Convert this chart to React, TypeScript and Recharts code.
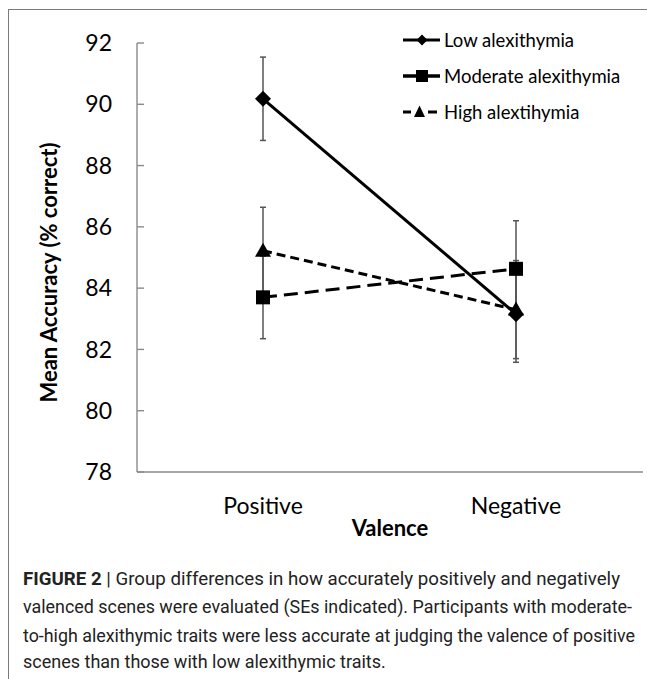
import React from 'react';
import { LineChart, Line, XAxis, YAxis, ErrorBar, Label } from 'recharts';

const categories = ['Positive', 'Negative'];
const lowMeans = [90.18, 83.15];
const lowSE = [1.36, 1.57];
const moderateMeans = [83.7, 84.63];
const moderateSE = [1.35, 1.57];
const highMeans = [85.22, 83.3];
const highSE = [1.42, 1.6];
const yTicks = [78, 80, 82, 84, 86, 88, 90, 92];

const data = categories.map((c, i) => ({
  valence: c,
  low: lowMeans[i],
  lowErr: lowSE[i],
  moderate: moderateMeans[i],
  moderateErr: moderateSE[i],
  high: highMeans[i],
  highErr: highSE[i],
}));

const AXIS = '#8a8a8a';
const ERR = '#555';
const FONT = 'Lato, "Open Sans", sans-serif';

const Diamond = (p: any) => {
  const { cx, cy, index } = p;
  if (cx == null || cy == null) return null;
  const r = 8;
  return <path key={`dm-${index}`} d={`M${cx},${cy - r}L${cx + r},${cy}L${cx},${cy + r}L${cx - r},${cy}Z`} fill="#000" />;
};

const Square = (p: any) => {
  const { cx, cy, index } = p;
  if (cx == null || cy == null) return null;
  const h = 7;
  return <rect key={`sq-${index}`} x={cx - h} y={cy - h} width={h * 2} height={h * 2} fill="#000" />;
};

const Triangle = (p: any) => {
  const { cx, cy, index } = p;
  if (cx == null || cy == null) return null;
  return <path key={`tr-${index}`} d={`M${cx},${cy - 8}L${cx + 8},${cy + 6}L${cx - 8},${cy + 6}Z`} fill="#000" />;
};

const legendRows = [
  { name: 'Low alexithymia', kind: 'diamond' },
  { name: 'Moderate alexithymia', kind: 'square' },
  { name: 'High alextihymia', kind: 'triangle' },
];

function LegendIcon({ kind }: { kind: string }) {
  if (kind === 'diamond') {
    return (
      <svg width={38} height={20}>
        <line x1={0} y1={10} x2={37} y2={10} stroke="#000" strokeWidth={3} />
        <path d="M19,4.5L24.5,10L19,15.5L13.5,10Z" fill="#000" />
      </svg>
    );
  }
  if (kind === 'square') {
    return (
      <svg width={38} height={20}>
        <line x1={0} y1={10} x2={37} y2={10} stroke="#000" strokeWidth={3.5} />
        <rect x={13} y={4} width={12} height={12} fill="#000" />
      </svg>
    );
  }
  return (
    <svg width={38} height={20}>
      <line x1={0} y1={10} x2={8} y2={10} stroke="#000" strokeWidth={3} />
      <path d="M16.5,3.5L22,15L11,15Z" fill="#000" />
      <line x1={25} y1={10} x2={34} y2={10} stroke="#000" strokeWidth={3} />
    </svg>
  );
}

function ChartLegend() {
  return (
    <div style={{ fontFamily: FONT, fontSize: 18.5, color: '#000' }}>
      {legendRows.map((r) => (
        <div key={r.name} style={{ display: 'flex', alignItems: 'center', height: 36, whiteSpace: 'nowrap' }}>
          <LegendIcon kind={r.kind} />
          <span style={{ marginLeft: 3 }}>{r.name}</span>
        </div>
      ))}
    </div>
  );
}

const YTitle = (props: any) => {
  const vb = props.viewBox || { x: 0, y: 0, width: 0, height: 0 };
  const cx = vb.x + 40;
  const cy = vb.y + vb.height / 2 + 15;
  return (
    <text
      x={cx}
      y={cy}
      transform={`rotate(-90, ${cx}, ${cy})`}
      textAnchor="middle"
      dominantBaseline="central"
      fontFamily={FONT}
      fontWeight={700}
      fontSize={22}
      fill="#000"
    >
      Mean Accuracy (% correct)
    </text>
  );
};

// caption lines and their printed widths
const captionLines = [
  { text: 'Group differences in how accurately positively and negatively', bold: 'FIGURE 2', width: 597 },
  { text: 'valenced scenes were evaluated (SEs indicated). Participants with moderate-', bold: '', width: 609 },
  { text: 'to-high alexithymic traits were less accurate at judging the valence of positive', bold: '', width: 612 },
  { text: 'scenes than those with low alexithymic traits.', bold: '', width: 0 },
];

function Caption() {
  const baselines = [21, 49, 77.7, 104];
  return (
    <svg width={640} height={115} style={{ display: 'block' }}>
      {captionLines.map((l, i) => (
        <text
          key={i}
          x={0}
          y={baselines[i]}
          fontFamily="Roboto, sans-serif"
          fontSize={18}
          fill="#222"
          {...(l.width ? { textLength: l.width, lengthAdjust: 'spacingAndGlyphs' } : {})}
        >
          {l.bold ? <tspan fontWeight={700}>{l.bold}</tspan> : null}
          {l.bold ? <tspan> | </tspan> : null}
          {l.text}
        </text>
      ))}
    </svg>
  );
}

export default function App() {
  return (
    <div style={{ position: 'relative', width: 647, height: 671 }}>
      <div
        style={{
          position: 'absolute',
          left: 0,
          top: 1,
          right: 0,
          bottom: 0,
          borderLeft: '1.4px solid #7a7a7a',
          borderTop: '1.4px solid #7a7a7a',
        }}
      />
      <div style={{ position: 'absolute', left: 0, top: 0 }}>
        <LineChart width={647} height={545} data={data} margin={{ top: 35, right: 12, left: 0, bottom: 1 }}>
          <XAxis
            dataKey="valence"
            height={80}
            padding={{ left: 126, right: 127 }}
            axisLine={{ stroke: AXIS, strokeWidth: 1.4 }}
            tickLine={false}
            tickSize={0}
            tickMargin={26}
            tick={{ fontFamily: FONT, fontSize: 23, fill: '#000' }}
          >
            <Label
              value="Valence"
              position="insideBottom"
              offset={16}
              style={{ fontFamily: FONT, fontSize: 22, fontWeight: 700, fill: '#000' }}
            />
          </XAxis>
          <YAxis
            width={129}
            domain={[78, 92]}
            ticks={yTicks}
            interval={0}
            axisLine={{ stroke: AXIS, strokeWidth: 1.4 }}
            tickLine={{ stroke: AXIS, strokeWidth: 1.4 }}
            tickSize={-7}
            tickMargin={32}
            tick={{ fontFamily: FONT, fontSize: 23, fill: '#000' }}
            label={{ content: YTitle }}
          />
          {/* error bars first so every marker sits on top */}
          <Line dataKey="low" stroke="none" dot={false} legendType="none" isAnimationActive={false}>
            <ErrorBar dataKey="lowErr" width={3} stroke={ERR} strokeWidth={1.5} direction="y" />
          </Line>
          <Line dataKey="moderate" stroke="none" dot={false} legendType="none" isAnimationActive={false}>
            <ErrorBar dataKey="moderateErr" width={3} stroke={ERR} strokeWidth={1.5} direction="y" />
          </Line>
          <Line dataKey="high" stroke="none" dot={false} legendType="none" isAnimationActive={false}>
            <ErrorBar dataKey="highErr" width={3} stroke={ERR} strokeWidth={1.5} direction="y" />
          </Line>
          <Line dataKey="low" stroke="#000" strokeWidth={3} dot={Diamond} activeDot={false} isAnimationActive={false} />
          <Line
            dataKey="moderate"
            stroke="#000"
            strokeWidth={3}
            strokeDasharray="14 7"
            dot={Square}
            activeDot={false}
            isAnimationActive={false}
          />
          <Line
            dataKey="high"
            stroke="#000"
            strokeWidth={3}
            strokeDasharray="9 5"
            dot={Triangle}
            activeDot={false}
            isAnimationActive={false}
          />
        </LineChart>
      </div>
      <div style={{ position: 'absolute', left: 395, top: 14 }}>
        <ChartLegend />
      </div>
      <div style={{ position: 'absolute', left: 14.7, top: 556 }}>
        <Caption />
      </div>
    </div>
  );
}
